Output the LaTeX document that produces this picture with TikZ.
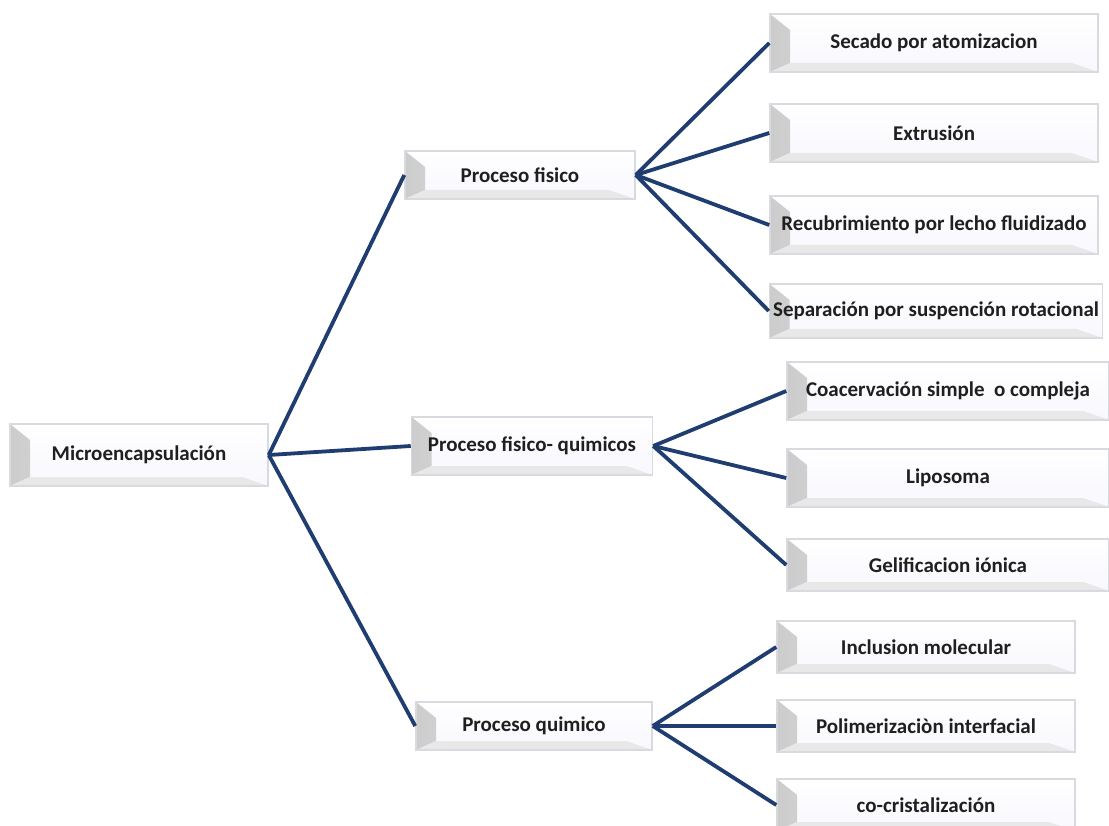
\documentclass[tikz,border=0pt]{standalone}
\usepackage{fontspec}
\setmainfont{Carlito}
\definecolor{MClinea}{HTML}{1F3D70}
\definecolor{MCborde}{HTML}{D9DADF}
\colorlet{MCfondo}{MCborde!60!blue!6!white}

\tikzset{
 caja/.style={draw=MCborde,line width=1.5pt,top color=white,bottom color=MCfondo,
  inner sep=1pt,font=\bfseries\fontsize{21}{24}\selectfont,text=black!88,
  path picture={
   \shade[left color=black!20,right color=white]
    (path picture bounding box.north west)--++(20pt,-16pt)
    --([xshift=20pt,yshift=9pt]path picture bounding box.south west)
    --(path picture bounding box.south west)--cycle;
   \fill[black!9]
    (path picture bounding box.south west)--++(20pt,9pt)
    --([xshift=-26pt,yshift=9pt]path picture bounding box.south east)
    --(path picture bounding box.south east)--cycle;
  }},
 rama/.style={MClinea,line width=3.8pt}
}

\begin{document}
\begin{tikzpicture}[x=1pt,y=-1pt]
\useasboundingbox (0,0) rectangle (1109,826);
\begin{scope}
\clip (0,0) rectangle (1109,826);
\node[caja,minimum width=258,minimum height=62] (micro) at (139,455) {Microencapsulación};
\node[caja,minimum width=230,minimum height=48] (fis) at (520,175) {Proceso fisico};
\node[caja,minimum width=241,minimum height=58] (fq) at (532,446) {Proceso fisico- quimicos};
\node[caja,minimum width=236,minimum height=48] (qui) at (534,726) {Proceso quimico};
\foreach \n/\x/\y/\h/\w/\lab in {sec/934/43/58/328/Secado por atomizacion,ext/934/133/58/328/Extrusión,
 rec/934/225/58/328/Recubrimiento por lecho fluidizado,sep/936/311/54/333/Separación por suspención rotacional,
 coa/948/391/58/322/Coacervación simple~~o compleja,lip/948/478/58/322/Liposoma,gel/948/565/52/322/Gelificacion iónica,
 inc/926/647/52/298/Inclusion molecular,pol/926/726/52/298/Polimerizaciòn interfacial,cri/926/805/52/298/co-cristalización}{
 \node[caja,minimum width=\w,minimum height=\h] (\n) at (\x,\y) {\lab};
}
\end{scope}
\foreach \h in {fis,fq,qui}{\draw[rama] (micro.east)--(\h.west);}
\foreach \h in {sec,ext,rec,sep}{\draw[rama] (fis.east)--(\h.west);}
\foreach \h in {coa,lip,gel}{\draw[rama] (fq.east)--(\h.west);}
\foreach \h in {inc,pol,cri}{\draw[rama] (qui.east)--(\h.west);}
\end{tikzpicture}
\end{document}
